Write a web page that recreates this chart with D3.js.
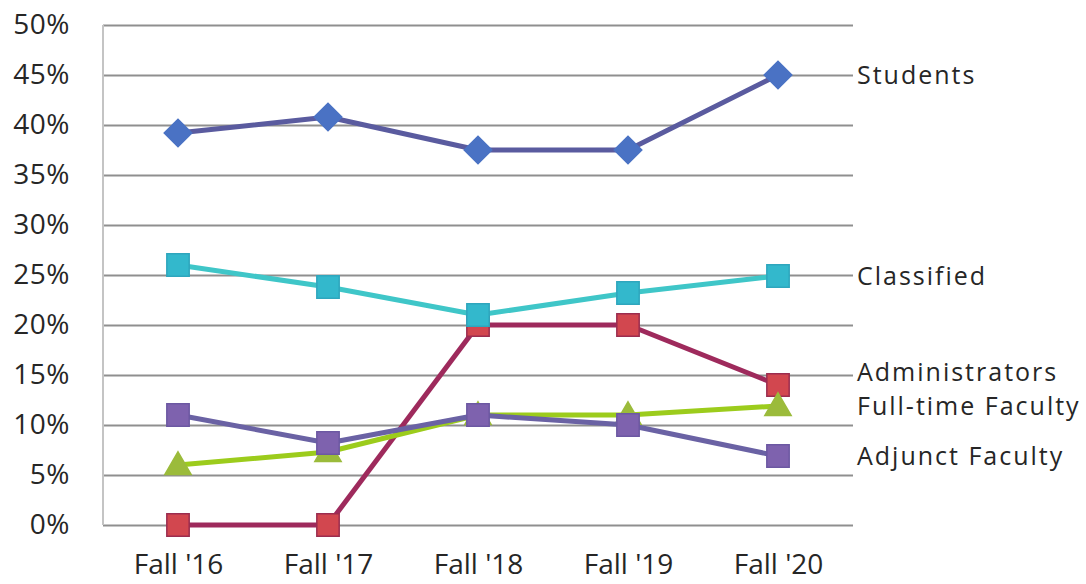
<!DOCTYPE html>
<html>
<head>
<meta charset="utf-8">
<script src="https://cdn.jsdelivr.net/npm/d3@7"></script>
<style>
  body { margin: 0; background: #fff; }
  text { font-family: 'Open Sans', sans-serif; fill: #262626; }
</style>
</head>
<body>
<div class="canvas"></div>
<script>
const width = 1086;
const height = 584;

// data
const terms = ["Fall '16", "Fall '17", "Fall '18", "Fall '19", "Fall '20"];
const students = [39.2, 40.8, 37.5, 37.5, 45.0];
const administrators = [0, 0, 20.0, 20.0, 14.0];
const classified = [26.0, 23.8, 21.0, 23.2, 24.9];
const fullTimeFaculty = [6.0, 7.3, 11.0, 11.0, 11.9];
const adjunctFaculty = [11.0, 8.2, 11.0, 10.0, 6.9];
const yTicks = [0, 5, 10, 15, 20, 25, 30, 35, 40, 45, 50];

const series = [
  { name: 'Students', values: students, line: '#5a5b9f', fill: '#4a72c4', stroke: '#4a72c4', shape: 'diamond' },
  { name: 'Administrators', values: administrators, line: '#9e2a5c', fill: '#d2474f', stroke: '#9b2d4f', shape: 'square' },
  { name: 'Classified', values: classified, line: '#3fc6c8', fill: '#33b8cc', stroke: '#2fa6bd', shape: 'square' },
  { name: 'Full-time Faculty', values: fullTimeFaculty, line: '#9ccc1c', fill: '#9bbb3b', stroke: '#9bbb3b', shape: 'triangle' },
  { name: 'Adjunct Faculty', values: adjunctFaculty, line: '#6a62a4', fill: '#7e62ae', stroke: '#6c58a2', shape: 'square' }
];

const plot = { left: 103, right: 853, top: 25, bottom: 525 };

const canvas = d3
  .select('.canvas')
  .append('svg')
  .attr('width', width)
  .attr('height', height);

const xScale = d3.scalePoint().domain(terms).range([plot.left, plot.right]).padding(0.5);
const yScale = d3.scaleLinear().domain([0, 50]).range([plot.bottom, plot.top]);

// gridlines + y labels
const yAxis = d3.axisLeft(yScale)
  .tickValues(yTicks)
  .tickSize(-(plot.right - plot.left))
  .tickPadding(33)
  .tickFormat((d) => d + '%');

const yAxisG = canvas.append('g')
  .attr('transform', `translate(${plot.left},0)`)
  .call(yAxis);
yAxisG.select('path.domain').remove();
yAxisG.selectAll('.tick line').attr('stroke', '#8f8f8f').attr('stroke-width', 2);
yAxisG.selectAll('.tick text')
  .style('font-size', '28px')
  .style('letter-spacing', '0.5px')
  .attr('fill', '#262626');

// left axis line
canvas.append('line')
  .attr('x1', plot.left).attr('x2', plot.left)
  .attr('y1', plot.top).attr('y2', plot.bottom)
  .attr('stroke', '#c4c4c4').attr('stroke-width', 2);

// x labels
const xAxis = d3.axisBottom(xScale).tickSize(0).tickPadding(29);
const xAxisG = canvas.append('g')
  .attr('transform', `translate(0,${plot.bottom})`)
  .call(xAxis);
xAxisG.select('path.domain').remove();
xAxisG.selectAll('.tick text').style('font-size', '28px').attr('fill', '#262626');

const line = d3.line()
  .x((d, i) => xScale(terms[i]))
  .y((d) => yScale(d));

const symbolFor = {
  diamond: d3.symbol().type(d3.symbolSquare).size(380),
  square: d3.symbol().type(d3.symbolSquare).size(500),
  triangle: d3.symbol().type(d3.symbolTriangle).size(300)
};

series.forEach((s) => {
  const g = canvas.append('g').attr('class', 'series');
  g.append('path')
    .attr('d', line(s.values))
    .attr('fill', 'none')
    .attr('stroke', s.line)
    .attr('stroke-width', 5)
    .attr('stroke-linejoin', 'round');

  g.selectAll('path.marker')
    .data(s.values)
    .enter()
    .append('path')
    .attr('class', 'marker')
    .attr('d', symbolFor[s.shape])
    .attr('transform', (d, i) => {
      const rot = s.shape === 'diamond' ? ' rotate(45)' : '';
      const dy = s.shape === 'triangle' ? 2 : 0;
      return `translate(${xScale(terms[i])},${yScale(d) + dy})${rot}`;
    })
    .attr('fill', s.fill)
    .attr('stroke', s.stroke)
    .attr('stroke-width', 1.5);
});

// series labels at right, pushed apart where they collide
const labels = series
  .map((s) => ({ name: s.name, y: yScale(s.values[s.values.length - 1]) }))
  .sort((a, b) => b.y - a.y);
for (let i = 1; i < labels.length; i++) {
  labels[i].y = Math.min(labels[i].y, labels[i - 1].y - 34);
}

canvas.selectAll('text.series-label')
  .data(labels)
  .enter()
  .append('text')
  .attr('class', 'series-label')
  .attr('x', 857)
  .attr('y', (d) => d.y)
  .attr('dy', '0.36em')
  .style('font-size', '25px')
  .style('letter-spacing', '2px')
  .text((d) => d.name);
</script>
</body>
</html>
